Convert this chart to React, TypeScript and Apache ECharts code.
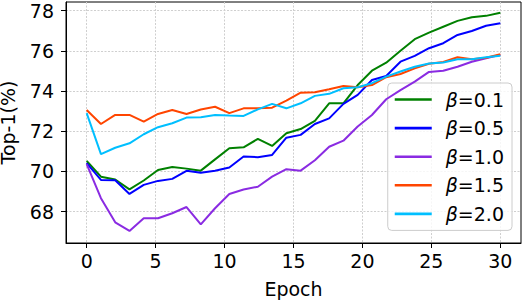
import React, { useEffect, useRef } from "react";
import * as echarts from "echarts";

const EPOCHS: number[] = Array.from({ length: 30 }, (_, i) => (i * 30) / 29);

const BETA_01 = [70.52, 69.74, 69.6, 69.11, 69.55, 70.07, 70.22, 70.14, 70.04, 70.6, 71.15, 71.2, 71.62, 71.27, 71.9, 72.11, 72.52, 73.39, 73.39, 74.3, 75.01, 75.41, 76.0, 76.58, 76.91, 77.2, 77.49, 77.67, 77.74, 77.9];
const BETA_05 = [70.41, 69.58, 69.56, 68.88, 69.33, 69.53, 69.63, 70.03, 69.93, 70.03, 70.2, 70.74, 70.71, 70.82, 71.68, 71.82, 72.36, 72.64, 73.36, 73.81, 74.55, 74.75, 75.46, 75.75, 76.13, 76.38, 76.79, 76.99, 77.25, 77.37];
const BETA_10 = [70.36, 68.67, 67.47, 67.04, 67.67, 67.67, 67.92, 68.23, 67.37, 68.17, 68.88, 69.1, 69.24, 69.74, 70.11, 70.04, 70.56, 71.23, 71.53, 72.24, 72.81, 73.59, 74.05, 74.47, 74.95, 75.01, 75.21, 75.46, 75.63, 75.8];
const BETA_15 = [73.06, 72.36, 72.81, 72.81, 72.48, 72.86, 73.06, 72.86, 73.08, 73.22, 72.9, 73.14, 73.14, 73.17, 73.52, 73.92, 73.94, 74.09, 74.25, 74.19, 74.3, 74.69, 74.85, 75.13, 75.36, 75.45, 75.68, 75.58, 75.66, 75.83];
const BETA_20 = [72.9, 70.86, 71.18, 71.4, 71.85, 72.2, 72.4, 72.68, 72.7, 72.81, 72.78, 72.76, 73.09, 73.36, 73.14, 73.39, 73.76, 73.86, 74.14, 74.19, 74.39, 74.72, 74.97, 75.21, 75.37, 75.42, 75.58, 75.58, 75.68, 75.76];

const SERIES_NAMES = ["β=0.1", "β=0.5", "β=1.0", "β=1.5", "β=2.0"];
const SERIES_VALUES = [BETA_01, BETA_05, BETA_10, BETA_15, BETA_20];
const SERIES_COLORS = ["#008000", "#0000ff", "#8a2be2", "#ff4500", "#00bfff"];

const X_TICKS = [0, 5, 10, 15, 20, 25, 30];
const Y_TICKS = [68, 70, 72, 74, 76, 78];

const FONT = "DejaVu Sans";

export default function App() {
  const ref = useRef<HTMLDivElement>(null);
  useEffect(() => {
    if (!ref.current) return;
    const chart = echarts.init(ref.current, undefined, { renderer: "svg" });
    const gridLine = { show: true, lineStyle: { color: "#cfcfcf", width: 1, type: [2, 1.5] as any } };
    chart.setOption({
      animation: false,
      backgroundColor: "#ffffff",
      grid: {
        left: 66,
        right: 2,
        top: 2,
        bottom: 60,
        outerBoundsMode: "none",
        containLabel: false,
        show: true,
        borderColor: "#000000",
        borderWidth: 1,
        backgroundColor: "transparent",
      },
      legend: {
        orient: "vertical",
        right: 11,
        top: 83,
        padding: [7, 8, 7, 7],
        itemWidth: 37,
        itemHeight: 19,
        itemGap: 9.6,
        icon: "path://M0,0 L37,0 L37,2.6 L0,2.6 Z",
        backgroundColor: "rgba(255,255,255,0.8)",
        borderColor: "#cccccc",
        borderWidth: 1,
        borderRadius: 4,
        data: SERIES_NAMES,
        formatter: (name: string) => `{b|β}{n|${name.slice(1)}}`,
        textStyle: {
          fontFamily: FONT,
          fontSize: 19,
          color: "#000",
          rich: {
            b: { fontFamily: FONT, fontSize: 19, fontStyle: "italic", padding: [0, 0, 0, 9], color: "#000" },
            n: { fontFamily: FONT, fontSize: 19, color: "#000" },
          },
        },
      },
      xAxis: {
        type: "value",
        min: -1.5,
        max: 31.5,
        name: "Epoch",
        nameLocation: "middle",
        nameGap: 36,
        nameTextStyle: { fontFamily: FONT, fontSize: 19, color: "#000" },
        axisLine: { show: true, onZero: false, lineStyle: { color: "#000", width: 1 } },
        axisTick: { show: true, length: 5, lineStyle: { color: "#000" }, customValues: X_TICKS },
        axisLabel: { customValues: X_TICKS, margin: 8, fontFamily: FONT, fontSize: 19, color: "#000" },
        splitLine: gridLine,
      },
      yAxis: {
        type: "value",
        min: 66.44,
        max: 78.43,
        name: "Top-1(%)",
        nameLocation: "middle",
        nameRotate: 90,
        nameGap: 49,
        nameTextStyle: { fontFamily: FONT, fontSize: 19, lineHeight: 19, color: "#000" },
        axisLine: { show: true, onZero: false, lineStyle: { color: "#000", width: 1 } },
        axisTick: { show: true, length: 5, lineStyle: { color: "#000" }, customValues: Y_TICKS },
        axisLabel: { customValues: Y_TICKS, margin: 12, fontFamily: FONT, fontSize: 19, color: "#000" },
        splitLine: gridLine,
      },
      series: SERIES_NAMES.map((name, k) => ({
        name,
        type: "line",
        data: SERIES_VALUES[k].map((v, i) => [EPOCHS[i], v]),
        symbol: "none",
        showSymbol: false,
        color: SERIES_COLORS[k],
        lineStyle: { color: SERIES_COLORS[k], width: 2 },
        z: 2 + k,
      })),
    });
    return () => chart.dispose();
  }, []);
  return (
    <div
      ref={ref}
      style={{ position: "fixed", left: 0, top: 0, width: 523, height: 303 }}
    />
  );
}
